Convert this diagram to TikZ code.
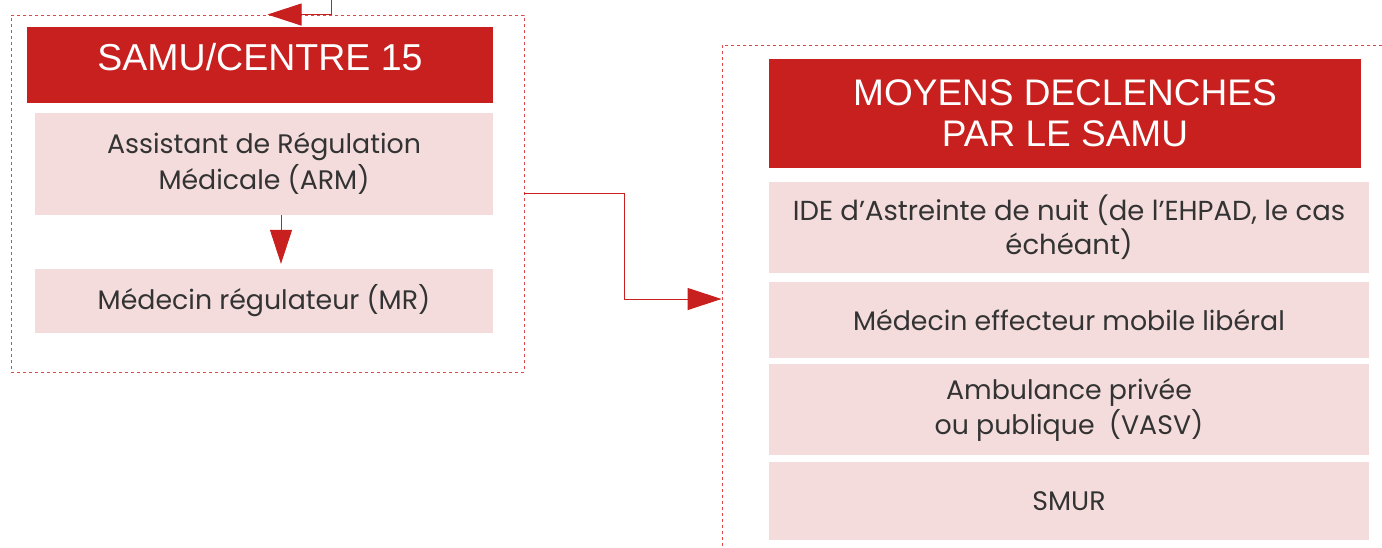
\documentclass[tikz,border=0pt]{standalone}
\usepackage{fontspec}
\setmainfont{Poppins}[Ligatures=NoCommon]
\newfontfamily\headfont{Liberation Sans}
\usetikzlibrary{arrows.meta}
\definecolor{samured}{HTML}{C8201E}
\definecolor{pinkbox}{HTML}{F4DCDC}
\definecolor{dashred}{HTML}{E04848}
\definecolor{bodytext}{HTML}{333333}
\begin{document}
\begin{tikzpicture}[x=1pt,y=-1pt,
  group/.style={draw=dashred,line width=0.9pt,dash pattern=on 3pt off 3pt,inner sep=0pt,anchor=center},
  header/.style={fill=samured,text=white,inner sep=0pt,align=center,anchor=center},
  item/.style={fill=pinkbox,text=bodytext,inner sep=0pt,align=center,anchor=center,font=\fontsize{26.8}{36}\selectfont},
  conn/.style={draw=samured,line width=1pt,-{Triangle[length=34pt,width=22pt]}}]
\useasboundingbox (0,0) rectangle (1382,547);
% left group
\node[group,minimum width=513pt,minimum height=357pt] (leftgrp) at (267.5,193.5) {};
\node[header,minimum width=466pt,minimum height=76pt,text depth=16pt,font=\headfont\fontsize{37.5}{44}\selectfont] (samu) at (260,65) {SAMU/CENTRE 15};
\node[item,minimum width=458pt,minimum height=102pt] (arm) at (264,164) {Assistant de Régulation\\Médicale (ARM)};
\node[item,minimum width=458pt,minimum height=64pt] (mr) at (264,301) {Médecin régulateur (MR)};
% right group
\node[group,minimum width=670pt,minimum height=508pt] (rightgrp) at (1057,299) {};
\node[header,minimum width=592pt,minimum height=109pt,font=\headfont\fontsize{37}{41}\selectfont] (moyens) at (1065,113.5) {MOYENS DECLENCHES\\PAR LE SAMU};
\node[item,minimum width=600pt,minimum height=91pt,font=\fontsize{27.5}{34}\selectfont] (ide) at (1069,227.5) {IDE d’Astreinte de nuit (de l’EHPAD, le cas\\échéant)};
\node[item,minimum width=600pt,minimum height=76pt] (medeff) at (1069,320) {Médecin effecteur mobile libéral};
\node[item,minimum width=600pt,minimum height=91pt,font=\fontsize{26.8}{35}\selectfont] (amb) at (1069,409.5) {Ambulance privée\\ou publique\ \ (VASV)};
\node[item,minimum width=600pt,minimum height=78pt] (smur) at (1069,501) {SMUR};
% connectors
\coordinate (topin) at (331,-2);
\draw[conn] (topin) |- (leftgrp.north);
\draw[conn,shorten >=5pt] (arm.south -| 281,0) -- (mr.north -| 281,0);
\draw[conn] (leftgrp.east) -- ++(100,0) |- (rightgrp.west);
\end{tikzpicture}
\end{document}
